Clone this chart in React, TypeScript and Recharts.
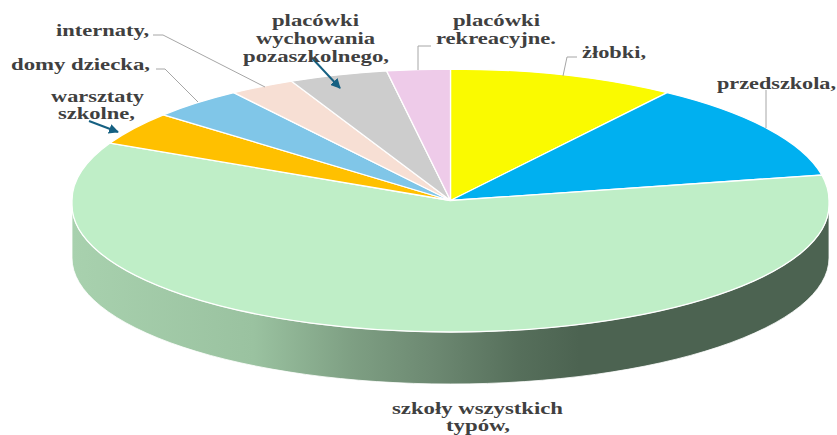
import { Pie, PieChart } from "recharts";

const CATEGORIES = [
  "żłobki",
  "przedszkola",
  "szkoły wszystkich typów",
  "warsztaty szkolne",
  "domy dziecka",
  "internaty",
  "placówki wychowania pozaszkolnego",
  "placówki rekreacyjne",
];
const VALUES = [9.7, 12.2, 60.3, 4.1, 4.0, 2.8, 4.2, 2.7];
const COLORS = [
  "#FAFA00",
  "#00B0F0",
  "#BFEEC7",
  "#FFC000",
  "#80C6E8",
  "#F7DFD4",
  "#CDCDCD",
  "#EECBE9",
];

const data = CATEGORIES.map((name, i) => ({
  name,
  value: VALUES[i],
  fill: COLORS[i],
}));

// the pie is drawn as a flat ellipse with a wall under it.
// the picture is slightly fuller below the middle, so the front half has its own centre
const CX = 450.5;
const CY = 200.5;
const RX = 378.5;
const RY = 131.5;
const FRONT_CY = 205;
const FRONT_RY = 127;
const WALL_CY = 258;
const WALL_RY = 126;

const pointOn = (deg: number, cy: number, ry: number) => {
  const rad = (deg * Math.PI) / 180;
  return `${CX + RX * Math.cos(rad)} ${cy - ry * Math.sin(rad)}`;
};
const back = (deg: number) => pointOn(deg, CY, RY);
const front = (deg: number) => pointOn(deg, FRONT_CY, FRONT_RY);
const wall = (deg: number) => pointOn(deg, WALL_CY, WALL_RY);

function TopSector(props: any) {
  const { startAngle, endAngle, fill } = props;
  let d = `M ${CX} ${CY} `;
  if (endAngle >= 0 || startAngle <= -180) {
    d += `L ${back(startAngle)} A ${RX} ${RY} 0 0 1 ${back(endAngle)} Z`;
  } else {
    // slice runs round the front of the pie
    d += `L ${back(startAngle)} A ${RX} ${RY} 0 0 1 ${back(0)} `;
    d += `L ${front(0)} A ${RX} ${FRONT_RY} 0 0 1 ${front(-180)} `;
    d += `L ${back(-180)} A ${RX} ${RY} 0 0 1 ${back(endAngle)} Z`;
  }
  return <path d={d} fill={fill} stroke="#fff" strokeWidth={1.3} />;
}

// only the front half of the rim is visible
function WallSector(props: any) {
  const a0 = Math.min(props.startAngle, 0);
  const a1 = Math.max(props.endAngle, -180);
  if (a0 <= a1) return <g />;
  const d =
    `M ${front(a0)} A ${RX} ${FRONT_RY} 0 0 1 ${front(a1)} ` +
    `L ${wall(a1)} A ${RX} ${WALL_RY} 0 0 0 ${wall(a0)} Z`;
  return <path d={d} fill="url(#wall)" stroke="#fff" strokeWidth={0.8} />;
}

type Line = { text: string; x: number; y: number; w: number };
type Note = { lines: Line[]; leader?: string; arrow?: [number, number, number, number] };

const NOTES: Note[] = [
  {
    lines: [{ text: "żłobki,", x: 582, y: 58, w: 64 }],
    leader: "577,57 567,57 563,76",
  },
  {
    lines: [{ text: "przedszkola,", x: 717, y: 89, w: 119 }],
    leader: "766,90 766,128",
  },
  {
    lines: [
      { text: "szkoły wszystkich", x: 392, y: 414, w: 171 },
      { text: "typów,", x: 446, y: 431, w: 64 },
    ],
  },
  {
    lines: [
      { text: "warsztaty", x: 51, y: 102, w: 93 },
      { text: "szkolne,", x: 58, y: 119, w: 77 },
    ],
    arrow: [89, 121, 118, 132],
  },
  {
    lines: [{ text: "domy dziecka,", x: 11, y: 70, w: 139 }],
    leader: "156,69 165,69 198,102",
  },
  {
    lines: [{ text: "internaty,", x: 56, y: 36, w: 93 }],
    leader: "153,35 163,35 265,87",
  },
  {
    lines: [
      { text: "placówki", x: 272, y: 26, w: 87 },
      { text: "wychowania", x: 256, y: 44, w: 119 },
      { text: "pozaszkolnego,", x: 243, y: 62, w: 146 },
    ],
    arrow: [311, 57, 340, 88],
  },
  {
    lines: [
      { text: "placówki", x: 453, y: 26, w: 87 },
      { text: "rekreacyjne.", x: 436, y: 44, w: 120 },
    ],
    leader: "431,46 418,46 418,70",
  },
];

function renderNote({ index }: any) {
  const note = NOTES[index];
  return (
    <g key={index}>
      {note.leader && (
        <polyline points={note.leader} fill="none" stroke="#a6a6a6" strokeWidth={1} />
      )}
      {note.arrow && (
        <line
          x1={note.arrow[0]}
          y1={note.arrow[1]}
          x2={note.arrow[2]}
          y2={note.arrow[3]}
          stroke="#156082"
          strokeWidth={2}
          markerEnd="url(#head)"
        />
      )}
      {note.lines.map((l) => (
        <text
          key={l.text}
          x={l.x}
          y={l.y}
          textLength={l.w}
          lengthAdjust="spacingAndGlyphs"
          fontFamily="'Liberation Serif', serif"
          fontWeight="bold"
          fontSize={16}
          fill="#404040"
        >
          {l.text}
        </text>
      ))}
    </g>
  );
}

export default function App() {
  return (
    <div style={{ position: "absolute", left: 0, top: 0, width: 837, height: 435 }}>
      <PieChart width={837} height={435} margin={{ top: 0, right: 0, bottom: 0, left: 0 }}>
        <defs>
          <linearGradient id="wall" gradientUnits="userSpaceOnUse" x1={72} y1={0} x2={829} y2={0}>
            <stop offset="0" stopColor="#A8D1AE" />
            <stop offset="0.24" stopColor="#9AC2A0" />
            <stop offset="0.37" stopColor="#7E9F83" />
            <stop offset="0.48" stopColor="#6C8871" />
            <stop offset="0.59" stopColor="#566F5B" />
            <stop offset="0.67" stopColor="#4C6351" />
            <stop offset="1" stopColor="#4C6351" />
          </linearGradient>
          <marker
            id="head"
            markerWidth="5"
            markerHeight="5"
            refX="4.5"
            refY="2.5"
            orient="auto"
            markerUnits="strokeWidth"
          >
            <path d="M0 0 L5 2.5 L0 5 Z" fill="#156082" />
          </marker>
        </defs>
        <Pie
          data={data}
          dataKey="value"
          nameKey="name"
          cx={CX}
          cy={CY}
          outerRadius={RX}
          startAngle={90}
          endAngle={-270}
          shape={WallSector}
          isAnimationActive={false}
        />
        <Pie
          data={data}
          dataKey="value"
          nameKey="name"
          cx={CX}
          cy={CY}
          outerRadius={RX}
          startAngle={90}
          endAngle={-270}
          shape={TopSector}
          label={renderNote}
          labelLine={false}
          isAnimationActive={false}
        />
      </PieChart>
    </div>
  );
}
